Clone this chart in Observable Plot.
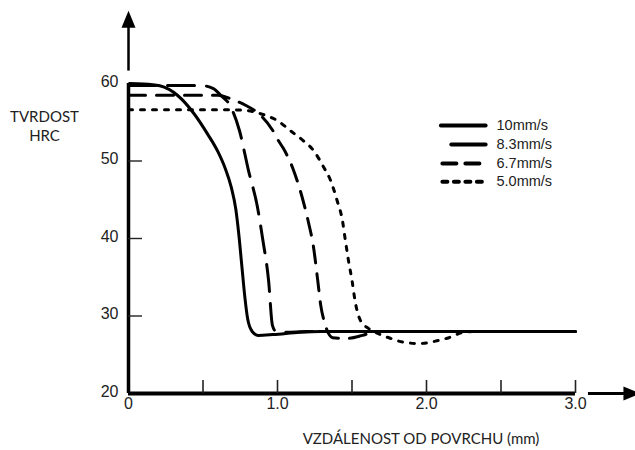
<!DOCTYPE html>
<html><head><meta charset="utf-8">
<script src="https://cdn.jsdelivr.net/npm/d3@7"></script>
<script src="https://cdn.jsdelivr.net/npm/@observablehq/plot@0.6"></script>
<style>body{margin:0;background:#fff} #chart svg{display:block}</style>
</head><body><div id="chart"></div>
<script>
// ---- data ----
const series = ["10mm/s", "8.3mm/s", "6.7mm/s", "5.0mm/s"];
const x10 = [0, 0.1, 0.21, 0.33, 0.44, 0.53, 0.60, 0.65, 0.69, 0.72, 0.74, 0.76, 0.78, 0.80, 0.83, 0.87, 0.97, 1.15, 1.29, 3.0];
const y10 = [60.0, 59.95, 59.7, 58.45, 56.1, 53.5, 51.2, 49.0, 46.6, 43.8, 40.6, 36.6, 32.6, 29.6, 28.0, 27.5, 27.6, 27.9, 28.0, 28.0];
const x83 = [0, 0.48, 0.57, 0.62, 0.68, 0.745, 0.805, 0.866, 0.90, 0.94, 0.966, 0.99, 1.05, 1.2, 3.0];
const y83 = [59.75, 59.75, 59.35, 58.45, 57.2, 53.9, 48.8, 44.0, 40.0, 34.6, 28.8, 28.0, 27.9, 28.0, 28.0];
const x67 = [0, 0.6, 0.70, 0.785, 0.886, 0.966, 1.007, 1.04, 1.10, 1.17, 1.21, 1.24, 1.27, 1.29, 1.315, 1.37, 1.46, 1.57, 1.66, 3.0];
const y67 = [58.5, 58.5, 57.9, 57.2, 55.9, 54.0, 52.6, 51.6, 49.2, 45.0, 41.9, 39.1, 34.6, 31.4, 29.2, 27.2, 27.1, 27.5, 28.0, 28.0];
const x50 = [0, 0.70, 0.80, 0.886, 1.0, 1.087, 1.174, 1.24, 1.31, 1.356, 1.40, 1.436, 1.456, 1.476, 1.50, 1.52, 1.557, 1.61, 1.68, 1.76, 1.85, 1.95, 2.07, 2.15, 2.25, 2.33, 3.0];
const y50 = [56.6, 56.6, 56.5, 56.1, 55.2, 53.9, 52.6, 51.4, 49.2, 47.5, 44.9, 42.3, 39.7, 37.2, 34.6, 32.0, 29.4, 28.4, 27.7, 27.1, 26.6, 26.45, 26.8, 27.2, 27.9, 28.0, 28.0];
const xTicks = [0.5, 1.0, 1.5, 2.0, 2.5, 3.0];
const xTickLabels = [0, 1.0, 2.0, 3.0];
const yTicks = [30, 40, 50];
const yTickLabels = [20, 30, 40, 50, 60];
const xTitle = "VZDÁLENOST OD POVRCHU (mm)";
const yTitle = "TVRDOST\nHRC";

// ---- build table ----
const xs = [x10, x83, x67, x50], ys = [y10, y83, y67, y50];
const rows = series.flatMap((s, i) => xs[i].map((x, j) => ({series: s, x, y: ys[i][j]})));

// ---- style ----
const W = 635, H = 450, mL = 128, mR = 60, mT = 83, mB = 57;
const frameW = W - mL - mR, frameH = H - mT - mB;
const xDom = [0, 3], yDom = [20, 60];
const curveDash = ["none", "27,12", "17,11", "4,8"];
const legendDash = ["none", "none", "14,9", "5,6.5"];
const legendX1 = [2.10, 2.17, 2.11, 2.11], legendX2 = 2.40, legendTextX = 2.47;
const legendY = [54.58, 52.13, 49.68, 47.33];
const tickFont = "'Liberation Sans', Arial, sans-serif";
const titleFont = "Lato, 'Open Sans', sans-serif";
const ink = "#000", textInk = "#222";
const arrowHead = {draw(ctx) { ctx.moveTo(0, 0); ctx.lineTo(-7, 17); ctx.lineTo(7, 17); ctx.closePath(); }};
// axis arrow extents (data units beyond the domain)
const yArrow = {x: 0, from: 61.6, to: 69.4};
const xArrow = {y: 20, from: 3.087, to: 3.436};

const order = [3, 2, 1, 0];
const chart = Plot.plot({
  width: W, height: H,
  marginLeft: mL, marginRight: mR, marginTop: mT, marginBottom: mB,
  x: {domain: xDom, axis: null},
  y: {domain: yDom, axis: null},
  style: {background: "#fff", overflow: "visible"},
  marks: [
    // curves
    ...order.map(i => Plot.line(rows.filter(d => d.series === series[i]), {
      x: "x", y: "y", curve: "monotone-x", stroke: ink, strokeWidth: 3,
      strokeDasharray: curveDash[i], strokeLinecap: curveDash[i] === "none" ? "butt" : "round", strokeLinejoin: "round"
    })),
    // axes
    Plot.ruleY([yDom[0]], {x1: xDom[0], x2: xDom[1], stroke: ink, strokeWidth: 4}),
    Plot.ruleX([xDom[0]], {y1: yDom[0], y2: yDom[1], stroke: ink, strokeWidth: 3.5}),
    Plot.tickX(xTicks, {x: d => d, insetTop: frameH - 13, stroke: "#222", strokeWidth: 1.6}),
    Plot.tickY(yTicks, {y: d => d, insetRight: frameW - 14, stroke: "#222", strokeWidth: 1.4}),
    Plot.text(xTickLabels, {x: d => d, frameAnchor: "bottom", dy: 15, text: d => d === 0 ? "0" : d.toFixed(1),
      fontSize: 16, fontFamily: tickFont, fill: textInk}),
    Plot.text(yTickLabels, {y: d => d, frameAnchor: "left", dx: -10, dy: -2, textAnchor: "end", text: d => String(d),
      fontSize: 16, fontFamily: tickFont, fill: textInk}),
    // arrows
    Plot.ruleX([yArrow.x], {y1: yArrow.from, y2: yArrow.to - 1.5, stroke: ink, strokeWidth: 2.5}),
    Plot.dot([yArrow.x], {x: d => d, y: () => yArrow.to, symbol: arrowHead, fill: ink, stroke: null}),
    Plot.ruleY([xArrow.y], {x1: xArrow.from, x2: xArrow.to - 0.08, stroke: ink, strokeWidth: 3}),
    Plot.dot([xArrow.y], {x: () => xArrow.to, y: d => d, symbol: arrowHead, rotate: 90, fill: ink, stroke: null}),
    // titles
    Plot.text([xTitle], {frameAnchor: "bottom", dx: 69, dy: 50, text: d => d, fontSize: 15, fontFamily: titleFont, fill: textInk}),
    Plot.text([yTitle], {frameAnchor: "top-left", dx: -84, dy: 25, text: d => d, lineHeight: 1.25, textAnchor: "middle",
      fontSize: 15, fontFamily: titleFont, fill: textInk}),
    // legend
    ...series.map((s, i) => Plot.ruleY([legendY[i]], {x1: legendX1[i], x2: legendX2, stroke: ink, strokeWidth: 4,
      strokeDasharray: legendDash[i], strokeLinecap: "round"})),
    Plot.text(series, {x: legendTextX, y: (d, i) => legendY[i], text: d => d, textAnchor: "start",
      fontSize: 14.5, fontFamily: tickFont, fill: textInk})
  ]
});
document.getElementById("chart").appendChild(chart);
</script>
</body></html>
